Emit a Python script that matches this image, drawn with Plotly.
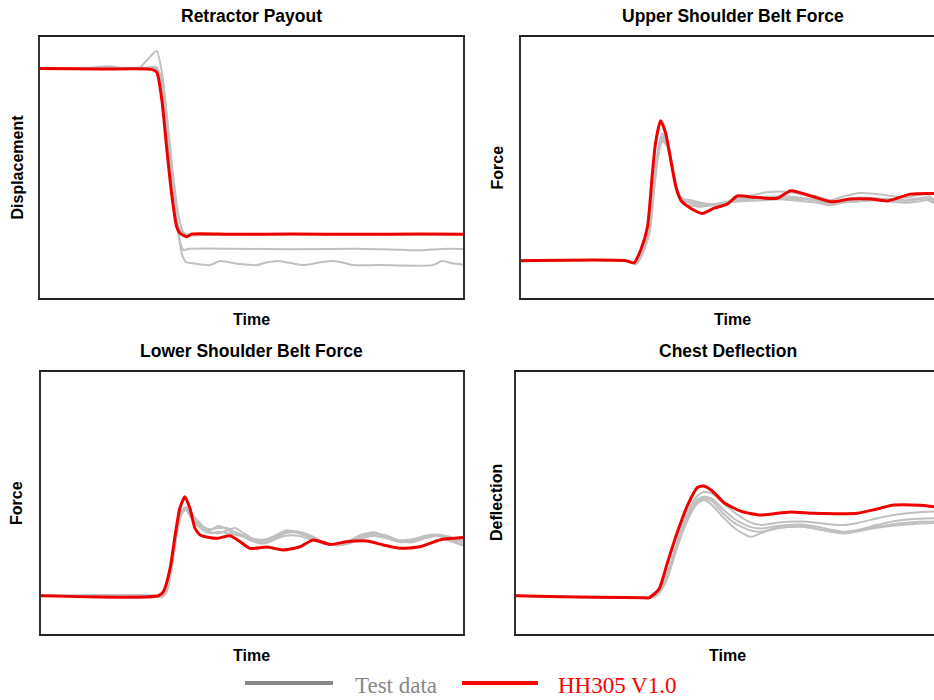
import plotly.graph_objects as go
from plotly.subplots import make_subplots

# ---------------- DATA ----------------
# Panel 1: Retractor Payout (time in % of window, displacement in % of axis)
p1_red_t = [0, 14, 26.4, 27.6, 28.8, 30.0, 31.1, 32.3, 33.1, 34.7, 35.9, 45, 60, 75, 90, 100]
p1_red_v = [87.9, 87.7, 87.6, 86.5, 75.9, 56.7, 40.2, 27.3, 24.8, 23.5, 24.5, 24.4, 24.5, 24.4, 24.5, 24.4]

p1_g1_t = [0, 10, 16.5, 20, 23.3, 25.5, 27.6, 29.1, 30.3, 31.4, 32.6, 33.6, 34.5, 36, 40.2, 42.6, 45, 47.3,
           51.2, 53.5, 56, 59, 62.2, 66, 69.3, 72, 74, 80, 92.9, 95, 97.5, 100]
p1_g1_v = [88.2, 88.0, 88.8, 88.0, 88.0, 91.5, 94.6, 83.5, 64.4, 45.2, 26.0, 16.5, 13.8, 13.3, 12.6, 14.2, 13.6, 13.0,
           12.6, 13.6, 14.2, 13.5, 12.6, 13.6, 14.2, 13.4, 12.6, 12.6, 12.6, 14.2, 13.3, 12.8]
p1_g2_t = [0, 15, 25, 27, 28.2, 29.5, 30.8, 32.0, 33.2, 34.0, 35, 45, 60, 75, 85, 90, 95, 100]
p1_g2_v = [88.0, 88.2, 88.0, 88.6, 86, 72, 52, 34, 21, 18.3, 18.8, 18.9, 18.7, 18.9, 18.5, 18.3, 18.8, 18.8]
p1_g3_t = [0, 20, 26, 27.5, 28.8, 30.1, 31.4, 32.7, 33.8, 35, 40, 60, 80, 100]
p1_g3_v = [87.8, 87.9, 88.2, 88.5, 84, 68, 48, 32, 25.5, 24.0, 24.4, 24.5, 24.4, 24.5]
p1_g4_t = [0, 18, 26, 27.3, 28.5, 29.8, 31.0, 32.3, 33.5, 35, 50, 100]
p1_g4_v = [88.0, 88.1, 88.3, 88.0, 82, 64, 45, 30, 25, 24.2, 24.4, 24.4]

# Panel 2: Upper Shoulder Belt Force
p2_red_t = [0, 24.8, 26.7, 28.3, 29.9, 31.0, 31.8, 33.0, 34.2, 35.4, 36.6, 37.8, 40.1, 42.9, 45.6, 48.8,
            51.1, 55.1, 60.6, 63.8, 68.5, 73.2, 77.9, 82.7, 86.6, 92.1, 97.6, 100]
p2_red_v = [14.3, 14.3, 13.5, 18.4, 27.3, 46.5, 59.3, 67.9, 63.1, 52.9, 42.7, 37.5, 34.4, 32.4, 34.4, 36.0,
            39.1, 38.6, 38.2, 41.1, 39.1, 36.9, 37.9, 37.9, 37.2, 39.8, 40.0, 40.0]
p2_gray_t = [0, 25, 27.2, 28.8, 30.4, 31.5, 32.3, 33.4, 34.6, 35.8, 37.0, 38.2, 40, 42.5, 45, 48, 51, 55,
             58, 61, 64, 67, 70, 73, 76, 80, 84, 88, 91, 94, 96, 98, 100]
p2_g1_v = [14.3, 14.3, 13.2, 17.5, 26, 44, 55, 62, 59, 50, 41, 37.5, 36.5, 35.5, 35.5, 36.5, 38, 39.5,
           40.5, 40.8, 40.5, 39.5, 39, 37.5, 38.8, 40.2, 39.8, 39.0, 38.5, 39.5, 39.8, 37, 35]
p2_g2_v = [14.3, 14.2, 13.0, 17, 25, 42, 53, 60, 58, 49, 40, 36, 35.5, 35.0, 35.5, 36.5, 37, 37.3,
           37.5, 37.8, 37.5, 37, 36.5, 35.5, 36.5, 37, 37.5, 36.8, 36.5, 37.0, 37.5, 36, 34.5]
p2_g3_v = [14.3, 14.3, 13.4, 18, 27, 45, 56, 63, 60, 51, 41.5, 38, 37.5, 36.5, 36, 36.5, 37.5, 38.5,
           38.8, 39, 38.8, 38.2, 37.5, 36, 37.5, 38.5, 38.2, 37.8, 37.5, 38.2, 38.6, 36.5, 34.8]
p2_g4_v = [14.3, 14.3, 13.3, 17.8, 26.5, 43, 54, 61, 58.5, 49.5, 40.5, 37, 36.8, 36.2, 35.8, 36.2, 37.2, 38,
           38.3, 38.3, 38.0, 37.8, 37.2, 36.2, 37.0, 37.8, 38.0, 37.5, 37.2, 37.8, 38.2, 36.2, 34.8]

# Panel 3: Lower Shoulder Belt Force
p3_red_t = [0, 27.8, 29.0, 30.6, 31.8, 32.9, 34.1, 35.3, 36.5, 37.7, 41.6, 44.8, 47.2, 49.5, 53.5, 57.4,
            61.4, 64.5, 68.5, 72.4, 77.2, 81.1, 85.1, 89.8, 94.5, 100]
p3_red_v = [14.6, 14.6, 16.2, 25.1, 37.8, 47.9, 52.4, 47.9, 40.3, 37.8, 36.5, 37.5, 35.2, 32.7, 33.2, 32.1,
            33.3, 35.9, 34.2, 35.2, 35.5, 34.0, 32.7, 33.3, 35.9, 36.8]
p3_gray_t = [0, 27, 28.5, 29.8, 31, 32.2, 33.3, 34.3, 35.5, 37, 38.5, 40, 42, 44, 46, 48, 50, 52, 54, 56,
             58, 61, 64, 67, 70, 73, 76, 79, 82, 85, 88, 91, 94, 97, 100]
p3_g1_v = [14.6, 14.6, 14.2, 17, 28, 40, 46, 47.3, 45, 42, 40, 39.5, 41.2, 40, 38, 37.5, 36, 35, 35.5, 37,
           38.5, 39, 37.5, 35, 34, 35.5, 37.5, 38.5, 37.5, 35.5, 35, 36.5, 37.5, 36.5, 35]
p3_g2_v = [14.6, 14.6, 14.0, 16, 25, 38, 45.5, 48, 46.5, 43, 40.5, 39, 38.5, 39.5, 40.5, 38.5, 36.5, 35.5, 36, 37.5,
           39, 38.5, 36.5, 34.5, 34.0, 35.5, 38.0, 38.8, 37.0, 35.2, 35.5, 37.0, 37.8, 36.0, 34.0]
p3_g3_v = [14.6, 14.6, 14.1, 16.5, 26, 39, 46, 47.5, 44.5, 41.5, 39.5, 38.5, 39, 38.5, 38, 37.0, 35.5, 34.5, 35, 36.5,
           37.5, 37.5, 36, 34.5, 33.8, 34.5, 36.5, 37.5, 36.5, 35.0, 35.8, 37.5, 38.0, 37.0, 35.5]
p3_g4_v = [14.6, 14.6, 14.3, 17.5, 29, 41, 47, 48.5, 46, 43.5, 41, 40, 40.5, 40.5, 39, 37.5, 36.5, 36.0, 36.5, 38,
           39.5, 39.0, 37.0, 35.0, 34.2, 35.0, 37.0, 38.2, 37.2, 35.8, 36.2, 37.2, 37.5, 35.5, 33.8]

# Panel 4: Chest Deflection
p4_red_t = [0, 10.6, 30.3, 31.4, 33.8, 35.8, 38.1, 40.5, 42.9, 44.4, 46.4, 49.2, 53.1, 57.8, 64.9, 70.4,
            80.7, 85.5, 89.4, 95.7, 98.8, 100]
p4_red_v = [14.6, 14.2, 13.8, 13.8, 17.1, 27.2, 38.6, 48.9, 55.9, 56.5, 54.6, 50.1, 46.9, 45.4, 46.6, 46.1,
            46.1, 47.8, 49.2, 49.1, 48.6, 48.5]
p4_gray_t = [0, 10, 30.5, 31.8, 33.5, 35.5, 37.5, 39.5, 41.5, 43, 44.5, 46.5, 49, 52, 55.5, 58, 61, 64,
             67.3, 71, 74.5, 77.5, 81, 85, 88.5, 92.4, 95.5, 100]
p4_g1_v = [14.6, 14.2, 13.8, 14.0, 16, 22, 32, 42, 49.5, 53, 54.3, 53.5, 50, 46, 42.5, 41.6, 42.3, 42.8,
           42.9, 42.5, 41.8, 41.6, 42.5, 44, 45.2, 46.1, 46.5, 46.8]
p4_g2_v = [14.6, 14.2, 13.8, 13.9, 15.5, 21, 31, 40.5, 48, 51.5, 52.4, 51.5, 47.5, 43.5, 40.8, 40.3, 41, 41.6,
           41.8, 41, 39.8, 39.0, 39.8, 41.5, 42.8, 43.7, 44.0, 44.3]
p4_g3_v = [14.6, 14.2, 13.8, 13.9, 15, 20, 30, 39.5, 47, 50.8, 51.8, 50.5, 46, 42, 39.5, 39.0, 40, 40.8,
           41, 40.2, 39, 38.4, 39.2, 40.8, 41.8, 42.5, 42.8, 43.0]
p4_g4_v = [14.6, 14.2, 13.8, 13.9, 15, 20.5, 30.5, 39.5, 46.5, 50, 51.1, 49, 44.5, 40, 37.1, 38.5, 40.3, 40.8,
           41, 40.2, 39.2, 38.8, 39.5, 40.5, 41.2, 41.8, 42.2, 42.4]

panel_titles = ["Retractor Payout", "Upper Shoulder Belt Force", "Lower Shoulder Belt Force", "Chest Deflection"]
y_titles = ["Displacement", "Force", "Force", "Deflection"]
x_title = "Time"
legend_names = ["Test data", "HH305 V1.0"]

panels = [
    (1, 1, [(p1_g1_t, p1_g1_v), (p1_g2_t, p1_g2_v), (p1_g3_t, p1_g3_v), (p1_g4_t, p1_g4_v)], (p1_red_t, p1_red_v)),
    (1, 2, [(p2_gray_t, p2_g1_v), (p2_gray_t, p2_g2_v), (p2_gray_t, p2_g3_v), (p2_gray_t, p2_g4_v)], (p2_red_t, p2_red_v)),
    (2, 1, [(p3_gray_t, p3_g1_v), (p3_gray_t, p3_g2_v), (p3_gray_t, p3_g3_v), (p3_gray_t, p3_g4_v)], (p3_red_t, p3_red_v)),
    (2, 2, [(p4_gray_t, p4_g1_v), (p4_gray_t, p4_g2_v), (p4_gray_t, p4_g3_v), (p4_gray_t, p4_g4_v)], (p4_red_t, p4_red_v)),
]

# ---------------- FIGURE ----------------
W, H = 934, 700
GRAY = "#c0c0c0"
RED = "#ee0000"
fig = make_subplots(rows=2, cols=2)

for r, c, grays, red in panels:
    for i, (t, v) in enumerate(grays):
        fig.add_trace(go.Scatter(x=t, y=v, mode="lines", name=legend_names[0],
                                 line=dict(color=GRAY, width=2, shape="spline", smoothing=0.6),
                                 showlegend=False, hoverinfo="skip"), row=r, col=c)
    fig.add_trace(go.Scatter(x=red[0], y=red[1], mode="lines", name=legend_names[1],
                             line=dict(color=RED, width=3, shape="spline", smoothing=0.6),
                             showlegend=False, hoverinfo="skip"), row=r, col=c)

# plot-area boxes in pixels: (left, right, top, bottom)
boxes = {
    (1, 1): (40, 463, 37, 298),
    (1, 2): (521, 944, 37, 298),
    (2, 1): (41, 463, 372, 634),
    (2, 2): (516, 939, 372, 634),
}
ylabel_x = {(1, 1): 17, (1, 2): 497, (2, 1): 17, (2, 2): 497}
axis_ids = {(1, 1): ("xaxis", "yaxis"), (1, 2): ("xaxis2", "yaxis2"),
            (2, 1): ("xaxis3", "yaxis3"), (2, 2): ("xaxis4", "yaxis4")}

layout_updates = {}
for key, (l, rgt, tp, bt) in boxes.items():
    xa, ya = axis_ids[key]
    vis_r = min(rgt, W)
    xmax = 100 * (vis_r - l) / (rgt - l)
    right_panel = key[1] == 2
    layout_updates[xa] = dict(domain=[l / W, vis_r / W], range=[0, xmax], showticklabels=False, ticks="",
                              showgrid=False, zeroline=False, showline=True, linecolor="#222",
                              linewidth=1.5, mirror=True)
    layout_updates[ya] = dict(domain=[1 - bt / H, 1 - tp / H], range=[0, 100], showticklabels=False, ticks="",
                              showgrid=False, zeroline=False, showline=True, linecolor="#333",
                              linewidth=1.5, mirror=not right_panel)
fig.update_layout(**layout_updates)

font_family = "Liberation Sans, Arial, sans-serif"
annotations = []
for idx, key in enumerate([(1, 1), (1, 2), (2, 1), (2, 2)]):
    l, rgt, tp, bt = boxes[key]
    cx = (l + rgt) / 2
    cy = (tp + bt) / 2
    annotations.append(dict(text="<b>%s</b>" % panel_titles[idx], x=cx / W, y=1 - (tp - 21) / H,
                            xref="paper", yref="paper", xanchor="center", yanchor="middle",
                            showarrow=False, font=dict(family=font_family, size=17.5, color="#000")))
    annotations.append(dict(text="<b>%s</b>" % x_title, x=cx / W, y=1 - (bt + 21) / H,
                            xref="paper", yref="paper", xanchor="center", yanchor="middle",
                            showarrow=False, font=dict(family=font_family, size=16, color="#000")))
    annotations.append(dict(text="<b>%s</b>" % y_titles[idx], x=ylabel_x[key] / W, y=1 - cy / H,
                            xref="paper", yref="paper", xanchor="center", yanchor="middle", textangle=-90,
                            showarrow=False, font=dict(family=font_family, size=16, color="#000")))

# custom legend
leg_y = 1 - 683 / H
shapes = [
    dict(type="line", xref="paper", yref="paper", x0=245 / W, x1=333 / W, y0=leg_y, y1=leg_y,
         line=dict(color="#888888", width=4)),
    dict(type="line", xref="paper", yref="paper", x0=462 / W, x1=538 / W, y0=leg_y, y1=leg_y,
         line=dict(color="#ff0000", width=4)),
]
annotations.append(dict(text=legend_names[0], x=353 / W, y=1 - 685 / H, xref="paper", yref="paper",
                        xanchor="left", yanchor="middle", showarrow=False,
                        font=dict(family="Liberation Serif, Times New Roman, serif", size=23, color="#888888")))
annotations.append(dict(text=legend_names[1], x=556 / W, y=1 - 685 / H, xref="paper", yref="paper",
                        xanchor="left", yanchor="middle", showarrow=False,
                        font=dict(family="Liberation Serif, Times New Roman, serif", size=23, color="#ff0000")))

fig.update_layout(width=W, height=H, margin=dict(l=0, r=0, t=0, b=0), paper_bgcolor="white",
                  plot_bgcolor="white", showlegend=False, annotations=annotations, shapes=shapes)

fig.write_html("out.html", config={"displayModeBar": False})
